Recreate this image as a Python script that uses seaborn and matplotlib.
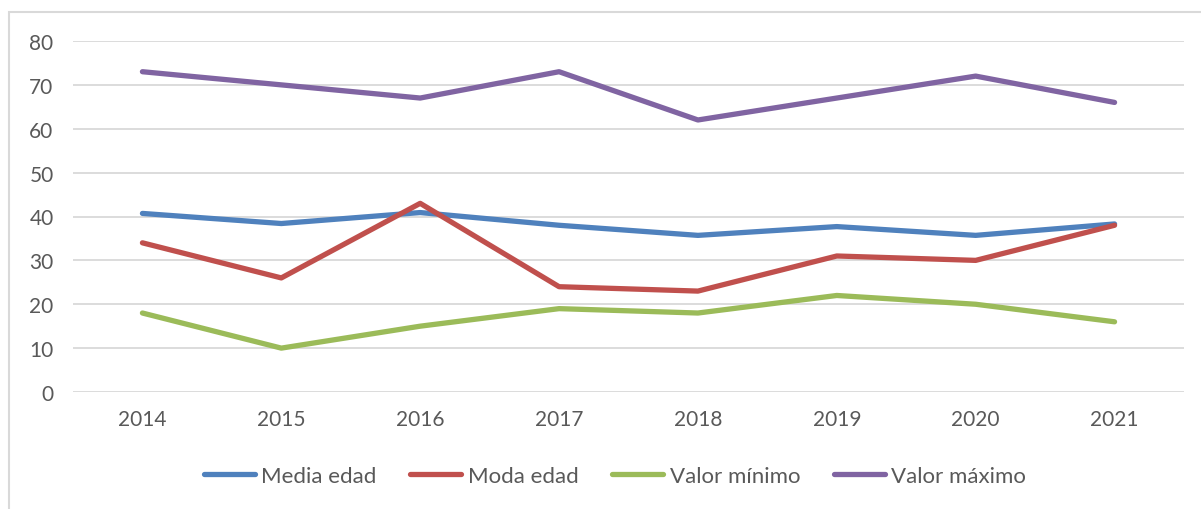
import matplotlib.pyplot as plt
import pandas as pd
import seaborn as sns
from matplotlib.patches import Rectangle

sns.set_theme(style="white")
plt.rcParams['font.family'] = ['Lato', 'DejaVu Sans']

years = [2014, 2015, 2016, 2017, 2018, 2019, 2020, 2021]
media_edad = [40.7, 38.4, 40.9, 38.0, 35.7, 37.7, 35.7, 38.3]
moda_edad = [34, 26, 43, 24, 23, 31, 30, 38]
valor_min = [18, 10, 15, 19, 18, 22, 20, 16]
valor_max = [73, 70, 67, 73, 62, 67, 72, 66]
series_names = ["Media edad", "Moda edad", "Valor mínimo", "Valor máximo"]
colors = ["#4F81BD", "#C0504D", "#9BBB59", "#8064A2"]

rows = []
for name, vals in zip(series_names, [media_edad, moda_edad, valor_min, valor_max]):
    for y, v in zip(years, vals):
        rows.append({"year": y, "value": v, "serie": name})
df = pd.DataFrame(rows)

fig = plt.figure(figsize=(12.01, 5.10), dpi=100)
ax = fig.add_axes([73 / 1201, 1 - 393 / 510, 1111 / 1201, 351 / 510])

# chart frame like the office export
fig.patches.append(Rectangle((9 / 1201, -0.1), 1.2, 1 - 13 / 510 + 0.1,
                             transform=fig.transFigure, fill=False,
                             edgecolor="#d9d9d9", linewidth=1.5))

sns.lineplot(data=df, x="year", y="value", hue="serie", palette=colors,
             linewidth=3.8, sort=False, ax=ax, legend=False,
             solid_capstyle="round")

ax.set_xlim(2013.5, 2021.5)
ax.set_ylim(0, 80)
ax.set_yticks(range(0, 81, 10))
ax.set_xticks(years)
ax.set_xlabel("")
ax.set_ylabel("")
ax.grid(axis="y", color="#d9d9d9", linewidth=1.3)
ax.set_axisbelow(True)
for s in ax.spines.values():
    s.set_visible(False)
ax.tick_params(axis="both", length=0, labelsize=15, labelcolor="#595959")
ax.tick_params(axis="y", pad=14)
ax.tick_params(axis="x", pad=12)

handles = [plt.Line2D([], [], color=c, linewidth=3.8, solid_capstyle="round") for c in colors]
fig.legend(handles, series_names, loc="center", bbox_to_anchor=(615 / 1201, 1 - 477 / 510),
           ncol=4, frameon=False, fontsize=16, handlelength=2.3, handletextpad=0.3,
           columnspacing=1.5, labelcolor="#595959")

fig.savefig("out.png", dpi=100)
